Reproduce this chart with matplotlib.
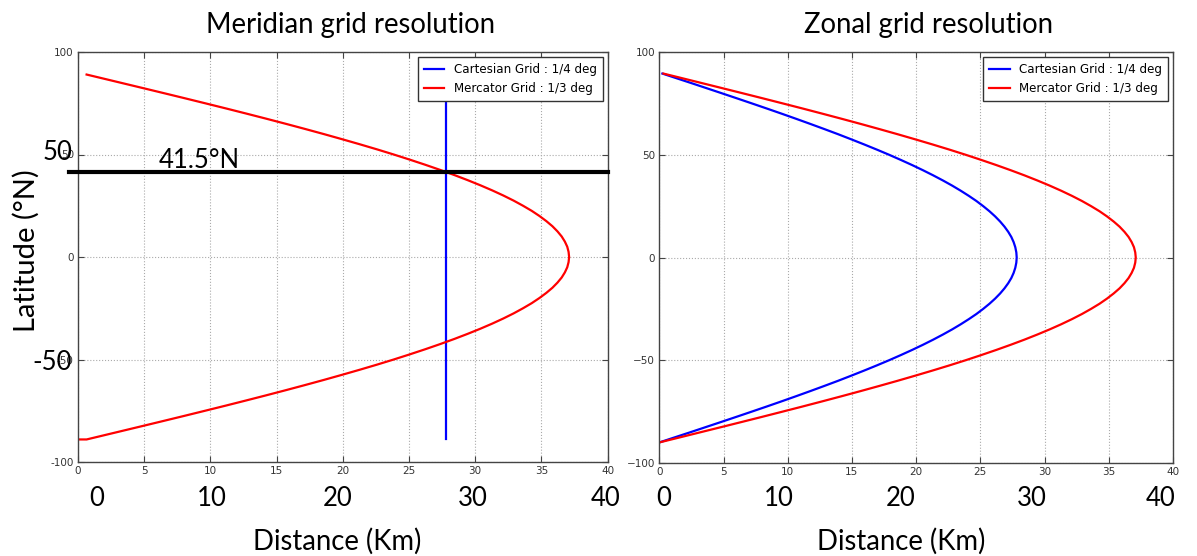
import matplotlib
matplotlib.use('Agg')
import matplotlib.pyplot as plt

# latitude samples (deg N) and distances (km)
lat_left = [89, 87.5, 85, 82.5, 80, 77.5, 75, 72.5, 70, 67.5, 65, 62.5, 60, 57.5, 55, 52.5, 50,
            47.5, 45, 42.5, 40, 37.5, 35, 32.5, 30, 27.5, 25, 22.5, 20, 17.5, 15, 12.5, 10, 7.5, 5, 2.5,
            0,
            -2.5, -5, -7.5, -10, -12.5, -15, -17.5, -20, -22.5, -25, -27.5, -30, -32.5, -35, -37.5, -40,
            -42.5, -45, -47.5, -50, -52.5, -55, -57.5, -60, -62.5, -65, -67.5, -70, -72.5, -75, -77.5,
            -80, -82.5, -85, -87.5, -89]
merc_left = [0.65, 1.62, 3.23, 4.84, 6.44, 8.03, 9.60, 11.16, 12.69, 14.20, 15.68, 17.13, 18.55,
             19.93, 21.28, 22.59, 23.85, 25.06, 26.23, 27.35, 28.42, 29.43, 30.39, 31.29, 32.13, 32.91,
             33.62, 34.28, 34.86, 35.38, 35.84, 36.22, 36.54, 36.78, 36.96, 37.06,
             37.10,
             37.06, 36.96, 36.78, 36.54, 36.22, 35.84, 35.38, 34.86, 34.28, 33.62, 32.91, 32.13, 31.29,
             30.39, 29.43, 28.42, 27.35, 26.23, 25.06, 23.85, 22.59, 21.28, 19.93, 18.55, 17.13, 15.68,
             14.20, 12.69, 11.16, 9.60, 8.03, 6.44, 4.84, 3.23, 1.62, 0.65]
merc_left_tail_x = [0.0]
merc_left_tail_y = [-89]
cart_meridian_x = [27.8, 27.8]
cart_meridian_y = [89, -89]

lat_right = [89.5, 87.5, 85, 82.5, 80, 77.5, 75, 72.5, 70, 67.5, 65, 62.5, 60, 57.5, 55, 52.5, 50,
             47.5, 45, 42.5, 40, 37.5, 35, 32.5, 30, 27.5, 25, 22.5, 20, 17.5, 15, 12.5, 10, 7.5, 5, 2.5,
             0,
             -2.5, -5, -7.5, -10, -12.5, -15, -17.5, -20, -22.5, -25, -27.5, -30, -32.5, -35, -37.5, -40,
             -42.5, -45, -47.5, -50, -52.5, -55, -57.5, -60, -62.5, -65, -67.5, -70, -72.5, -75, -77.5,
             -80, -82.5, -85, -87.5, -90]
cart_right = [0.24, 1.21, 2.43, 3.63, 4.83, 6.02, 7.20, 8.37, 9.52, 10.65, 11.76, 12.85, 13.92,
              14.95, 15.96, 16.94, 17.89, 18.80, 19.68, 20.52, 21.32, 22.08, 22.80, 23.47, 24.10, 24.69,
              25.22, 25.71, 26.15, 26.54, 26.88, 27.17, 27.41, 27.59, 27.72, 27.80,
              27.83,
              27.80, 27.72, 27.59, 27.41, 27.17, 26.88, 26.54, 26.15, 25.71, 25.22, 24.69, 24.10, 23.47,
              22.80, 22.08, 21.32, 20.52, 19.68, 18.80, 17.89, 16.94, 15.96, 14.95, 13.92, 12.85, 11.76,
              10.65, 9.52, 8.37, 7.20, 6.02, 4.83, 3.63, 2.43, 1.21, 0.0]
merc_right = [0.32, 1.62, 3.23, 4.84, 6.44, 8.03, 9.60, 11.16, 12.69, 14.20, 15.68, 17.13, 18.55,
              19.93, 21.28, 22.59, 23.85, 25.06, 26.23, 27.35, 28.42, 29.43, 30.39, 31.29, 32.13, 32.91,
              33.62, 34.28, 34.86, 35.38, 35.84, 36.22, 36.54, 36.78, 36.96, 37.06,
              37.10,
              37.06, 36.96, 36.78, 36.54, 36.22, 35.84, 35.38, 34.86, 34.28, 33.62, 32.91, 32.13, 31.29,
              30.39, 29.43, 28.42, 27.35, 26.23, 25.06, 23.85, 22.59, 21.28, 19.93, 18.55, 17.13, 15.68,
              14.20, 12.69, 11.16, 9.60, 8.03, 6.44, 4.84, 3.23, 1.62, 0.0]

xticks = [0, 5, 10, 15, 20, 25, 30, 35, 40]
yticks = [-100, -50, 0, 50, 100]
big_xlabels = ['0', '10', '20', '30', '40']
big_x_left = [97, 212, 338, 473, 606]
big_x_right = [664, 779, 901, 1032, 1161]
cross_lat = 41.5

W, H = 1197, 556
fig = plt.figure(figsize=(W / 100, H / 100), dpi=100)
big_font = 'Lato'
num_size = 18.5
word_size = 19.8

def fx(px):
    return px / W

def fy(py):
    return 1 - py / H

def setup(ax):
    ax.set_xlim(0, 40)
    ax.set_ylim(-100, 100)
    ax.set_xticks(xticks)
    ax.set_yticks(yticks)
    ax.tick_params(direction='in', top=True, right=True, labelsize=7.5,
                   labelcolor='#333333', color='#444444', length=4, width=0.8, pad=3)
    ax.grid(True, linestyle=':', color='#aaaaaa', linewidth=0.8)
    for s in ax.spines.values():
        s.set_color('#444444')
        s.set_linewidth(1.0)

ax1 = fig.add_axes([fx(78), fy(462), fx(607.5) - fx(78), fy(52) - fy(462)])
ax2 = fig.add_axes([fx(659.3), fy(463), fx(1173) - fx(659.3), fy(52) - fy(463)])
setup(ax1)
setup(ax2)
ax1.set_yticklabels(['-100', '-50', '0', '50', '100'])

ax1.plot(cart_meridian_x, cart_meridian_y, color='blue', lw=1.6, label='Cartesian Grid : 1/4 deg')
ax1.plot(merc_left + merc_left_tail_x, lat_left + merc_left_tail_y, color='red', lw=1.6,
         label='Mercator Grid : 1/3 deg')
ax2.plot(cart_right, lat_right, color='blue', lw=1.6, label='Cartesian Grid : 1/4 deg')
ax2.plot(merc_right, lat_right, color='red', lw=1.6, label='Mercator Grid : 1/3 deg')

for ax in (ax1, ax2):
    leg = ax.legend(loc='upper right', fontsize=8.6, handlelength=1.7, borderaxespad=0.4,
                    fancybox=False, framealpha=1, edgecolor='#333333', borderpad=0.5,
                    labelspacing=0.5, handletextpad=0.8)
    leg.get_frame().set_linewidth(1.0)
    leg.set_zorder(5)

# the 41.5N line
ax1.plot([-0.017, 1.0], [cross_lat, cross_lat], color='black', lw=3,
         transform=ax1.get_yaxis_transform(), clip_on=False, zorder=4)

# overlaid annotations
fig.text(fx(350), fy(25), 'Meridian grid resolution', ha='center', va='center',
         fontsize=word_size, family=big_font)
fig.text(fx(929), fy(25), 'Zonal grid resolution', ha='center', va='center',
         fontsize=word_size, family=big_font)
fig.text(fx(26), fy(251), 'Latitude (\u00b0N)', ha='center', va='center', rotation=90,
         fontsize=21, family=big_font)
fig.text(fx(57.5), fy(152), '50', ha='center', va='center', fontsize=num_size, family=big_font)
fig.text(fx(52), fy(363), '-50', ha='center', va='center', fontsize=num_size, family=big_font)
fig.text(fx(199), fy(160), '41.5\u00b0N', ha='center', va='center', fontsize=num_size,
         family=big_font)
for lab, xl, xr in zip(big_xlabels, big_x_left, big_x_right):
    fig.text(fx(xl), fy(498), lab, ha='center', va='center', fontsize=num_size, family=big_font)
    fig.text(fx(xr), fy(498), lab, ha='center', va='center', fontsize=num_size, family=big_font)
fig.text(fx(337), fy(541), 'Distance (Km)', ha='center', va='center', fontsize=word_size,
         family=big_font)
fig.text(fx(901), fy(541), 'Distance (Km)', ha='center', va='center', fontsize=word_size,
         family=big_font)

fig.savefig('out.png', dpi=100)
